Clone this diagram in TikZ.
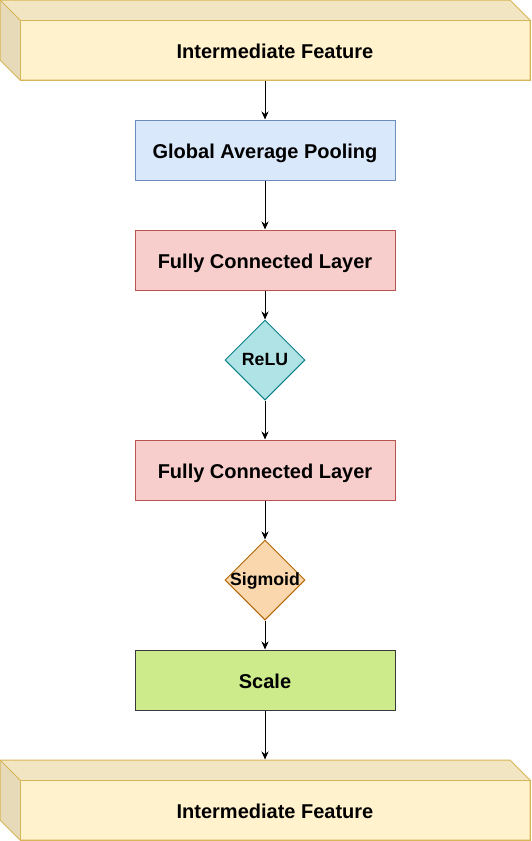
\documentclass[tikz,border=0pt]{standalone}
\usepackage{fontspec}
\setmainfont{Liberation Sans}
\usetikzlibrary{shapes.geometric,arrows.meta}
\definecolor{cubefill}{HTML}{FFF2CC}
\definecolor{cubetop}{HTML}{F2E6C2}
\definecolor{cubeside}{HTML}{E6DAB8}
\definecolor{cubeline}{HTML}{D6B656}
\definecolor{gapfill}{HTML}{DAE8FC}
\definecolor{gapline}{HTML}{6C8EBF}
\definecolor{fcfill}{HTML}{F8CECC}
\definecolor{fcline}{HTML}{B85450}
\definecolor{relufill}{HTML}{B0E3E6}
\definecolor{reluline}{HTML}{0E8088}
\definecolor{sigfill}{HTML}{FAD7AC}
\definecolor{sigline}{HTML}{B46504}
\definecolor{scalefill}{HTML}{CDEB8B}
\definecolor{scaleline}{HTML}{36393D}
\tikzset{
  boxstyle/.style={draw, rectangle, inner sep=0pt, minimum width=260pt, minimum height=60pt,
    font=\fontsize{20}{24}\selectfont\bfseries, text height=16pt, text depth=0pt},
  diamondbox/.style={draw, diamond, inner sep=0pt, minimum width=80pt, minimum height=80pt, aspect=1},
  dtext/.style={font=\fontsize{17.7}{20}\selectfont\bfseries, inner sep=0pt, text height=11.6pt, text depth=0pt},
  cubeframe/.style={rectangle, inner sep=0pt, minimum width=530pt, minimum height=80pt},
  cubefront/.style={draw=cubeline, fill=cubefill, rectangle, inner sep=0pt, minimum width=510pt, minimum height=60pt,
    font=\fontsize{20}{24}\selectfont\bfseries, text height=16pt, text depth=0pt},
  arrowline/.style={draw=black, line width=1pt, -{Stealth[length=8pt,width=7pt,inset=2.5pt]}}
}
\begin{document}
\begin{tikzpicture}[x=1pt,y=-1pt,line width=1pt]
\useasboundingbox (0,0) rectangle (531,841);
% top cube
\node[cubeframe] (cube1) at (265,40) {};
\fill[cubetop] (0,0) -- (510,0) -- (530,20) -- (20,20) -- cycle;
\fill[cubeside] (0,0) -- (20,20) -- (20,80) -- (0,60) -- cycle;
\node[cubefront] (front1) at (275,50) {Intermediate Feature};
\draw[cubeline, line join=round] (0,0) -- (510,0) -- (530,20) -- (530,80) -- (20,80) -- (0,60) -- cycle;
\draw[cubeline] (0,0) -- (20,20);
% boxes
\node[boxstyle, fill=gapfill, draw=gapline] (gap) at (265,150) {Global Average Pooling};
\node[boxstyle, fill=fcfill, draw=fcline] (fc1) at (265,260) {Fully Connected Layer};
\node[diamondbox, fill=relufill, draw=reluline] (relu) at (265,360) {};
\node[dtext] (reluT) at (relu.center) {ReLU};
\node[boxstyle, fill=fcfill, draw=fcline] (fc2) at (265,470) {Fully Connected Layer};
\node[diamondbox, fill=sigfill, draw=sigline] (sig) at (265,580) {};
\node[dtext] (sigT) at (sig.center) {Sigmoid};
\node[boxstyle, fill=scalefill, draw=scaleline] (scale) at (265,680) {Scale};
% bottom cube
\node[cubeframe] (cube2) at (265,800) {};
\fill[cubetop] (0,760) -- (510,760) -- (530,780) -- (20,780) -- cycle;
\fill[cubeside] (0,760) -- (20,780) -- (20,840) -- (0,820) -- cycle;
\node[cubefront] (front2) at (275,810) {Intermediate Feature};
\draw[cubeline, line join=round] (0,760) -- (510,760) -- (530,780) -- (530,840) -- (20,840) -- (0,820) -- cycle;
\draw[cubeline] (0,760) -- (20,780);
% arrows
\draw[arrowline] (cube1.south) -- (gap.north);
\draw[arrowline] (gap.south) -- (fc1.north);
\draw[arrowline] (fc1.south) -- (relu.north);
\draw[arrowline] (relu.south) -- (fc2.north);
\draw[arrowline] (fc2.south) -- (sig.north);
\draw[arrowline] (sig.south) -- (scale.north);
\draw[arrowline] (scale.south) -- (cube2.north);
\end{tikzpicture}
\end{document}
